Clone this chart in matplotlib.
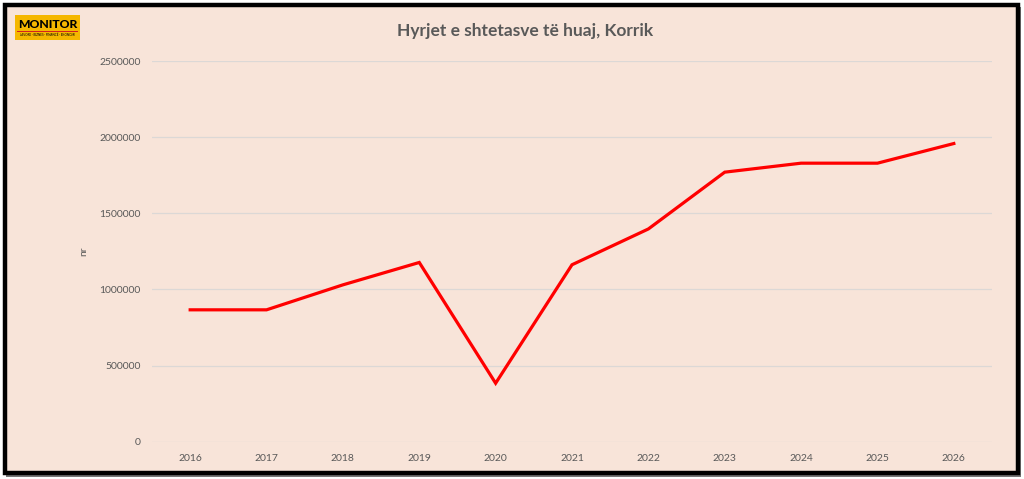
import matplotlib
matplotlib.use("Agg")
import matplotlib.pyplot as plt
from matplotlib.patches import Rectangle

plt.rcParams['font.family'] = ['Lato', 'DejaVu Sans']

# data
vitet = ['2016', '2017', '2018', '2019', '2020', '2021', '2022', '2023', '2024', '2025', '2026']
hyrjet = [866000, 866000, 1030000, 1177000, 384000, 1162000, 1397000, 1770000, 1829000, 1829000, 1958000]
y_ticks = [0, 500000, 1000000, 1500000, 2000000, 2500000]

bg = '#f8e4d9'
gri = '#595959'

fig = plt.figure(figsize=(10.24, 4.79), dpi=100)
fig.patch.set_facecolor('white')

# outer frame with shadow
W, H = 1024, 479
fig.patches.append(Rectangle((6 / W, 2 / H), 1015 / W, 470 / H, transform=fig.transFigure,
                             facecolor='#777777', edgecolor='none', zorder=0))
fig.patches.append(Rectangle((5 / W, 6 / H), 1013 / W, 468 / H, transform=fig.transFigure,
                             facecolor=bg, edgecolor='black', linewidth=3.2, zorder=1))

ax = fig.add_axes([152 / W, 37.3 / H, 840 / W, 380.7 / H])
ax.set_zorder(5)
ax.set_facecolor('none')
x = list(range(len(vitet)))
ax.plot(x, hyrjet, color='#ff0000', linewidth=2.3, solid_joinstyle='miter', zorder=3)

ax.set_xlim(-0.5, len(vitet) - 0.5)
ax.set_ylim(0, 2500000)
ax.set_yticks(y_ticks)
ax.set_yticklabels([str(v) for v in y_ticks])
ax.set_xticks(x)
ax.set_xticklabels(vitet)
ax.tick_params(axis='both', length=0, labelsize=7.5, labelcolor=gri)
ax.tick_params(axis='y', pad=8)
ax.tick_params(axis='x', pad=9)
ax.grid(axis='y', color='#dcd8d6', linewidth=0.9)
ax.set_axisbelow(True)
for s in ax.spines.values():
    s.set_visible(False)

ax.set_ylabel('nr', fontsize=7.5, color=gri, labelpad=8)

fig.text(525 / W, 1 - 31 / H, 'Hyrjet e shtetasve të huaj, Korrik', ha='center', va='center',
         fontsize=12.5, fontweight='bold', color=gri, zorder=6)

# logo
fig.patches.append(Rectangle((15 / W, 1 - 40 / H), 65 / W, 25 / H, transform=fig.transFigure,
                             facecolor='#f5b700', edgecolor='none', zorder=2))
fig.text(47.5 / W, 1 - 24 / H, 'MONITOR', ha='center', va='center', fontsize=8.8,
         fontweight='black', color='black', zorder=6)
fig.patches.append(Rectangle((17 / W, 1 - 32 / H), 61 / W, 1.2 / H, transform=fig.transFigure,
                             facecolor='#d62020', edgecolor='none', zorder=3))
fig.text(47.5 / W, 1 - 35.5 / H, 'JAVORE · BIZNES · FINANCË · EKONOMI', ha='center', va='center',
         fontsize=2.2, color='black', zorder=6)

fig.savefig('out.png', dpi=100, facecolor=fig.get_facecolor())
